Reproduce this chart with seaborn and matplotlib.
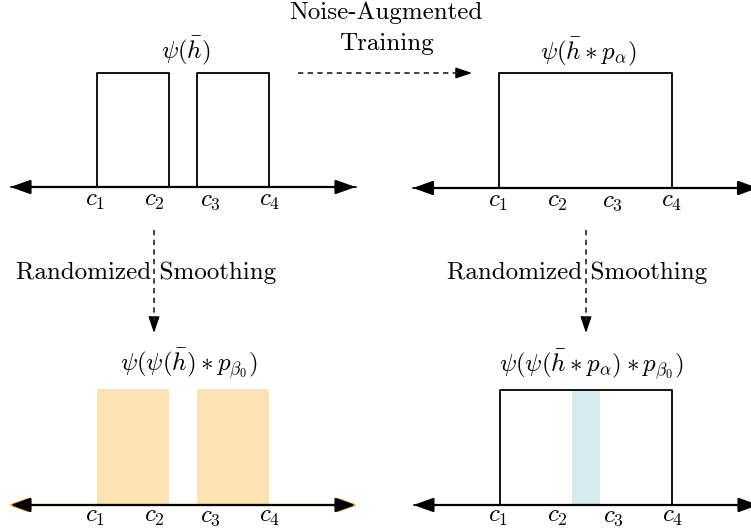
import matplotlib
matplotlib.use("Agg")
import matplotlib.pyplot as plt
import seaborn as sns
import numpy as np

# ---------------- data ----------------
c_labels = [r"$c_1$", r"$c_2$", r"$c_3$", r"$c_4$"]
c_label_x = [-3.05, -0.98, 0.95, 3.0]

# psi(h_bar): two plateaus
step_x_h = [-6.0, -3.0, -0.5, 0.5, 3.0, 6.0]
step_y_h = [0, 1, 0, 1, 0, 0]
# psi(h_bar * p_alpha): one plateau
step_x_ha = [-6.0, -3.0, 3.0, 6.0]
step_y_ha = [0, 1, 0, 0]

# certified (shaded) regions
orange_left = [-3.0, 0.5]
orange_right = [-0.5, 3.0]
blue_left = [-0.5]
blue_right = [0.5]

titles = [r"$\psi(\bar{h})$", r"$\psi(\bar{h} \ast p_\alpha)$",
          r"$\psi(\psi(\bar{h}) \ast p_{\beta_0})$",
          r"$\psi(\psi(\bar{h} \ast p_\alpha) \ast p_{\beta_0})$"]
flow_top = ["Noise-Augmented", "Training"]
flow_side = "Randomized Smoothing"

# ---------------- style ----------------
sns.set_theme(style="white")
plt.rcParams["font.family"] = ["cmr10", "DejaVu Serif"]
plt.rcParams["mathtext.fontset"] = "cm"
plt.rcParams["axes.unicode_minus"] = False
plt.rcParams["axes.formatter.use_mathtext"] = True
plt.rcParams["text.color"] = "black"

W, H = 751, 531
fig = plt.figure(figsize=(W / 100, H / 100), dpi=100)
fig.patch.set_facecolor("white")

XS = 28.75           # pixels per x unit
XLIM = (-6.4, 6.4)
YLIM = (-0.45, 1.25)
FS = 18

ORANGE = "#FDE3B1"
BLUE = "#D5EBF0"


def make_panel(cx, y0, ytop):
    ys = y0 - ytop
    left = (cx + XLIM[0] * XS) / W
    width = (XLIM[1] - XLIM[0]) * XS / W
    bottom = (H - (y0 - YLIM[0] * ys)) / H
    height = (YLIM[1] - YLIM[0]) * ys / H
    ax = fig.add_axes([left, bottom, width, height])
    ax.set_xlim(*XLIM)
    ax.set_ylim(*YLIM)
    ax.set_axis_off()
    return ax


def axis_arrow(ax, tip_color=None):
    if tip_color is not None:
        ax.annotate("", xy=(6.08, 0), xytext=(-6.08, 0),
                    arrowprops=dict(arrowstyle="<|-|>,head_length=1.0,head_width=0.36",
                                    color=tip_color, lw=1.6, shrinkA=0, shrinkB=0),
                    annotation_clip=False)
    ax.annotate("", xy=(6.0, 0), xytext=(-6.0, 0),
                arrowprops=dict(arrowstyle="<|-|>,head_length=1.0,head_width=0.36",
                                color="black", lw=1.6, shrinkA=0, shrinkB=0),
                annotation_clip=False)


def c_ticks(ax, y):
    for lab, x in zip(c_labels, c_label_x):
        ax.text(x, y, lab, ha="center", va="center", fontsize=FS, color="black")


# ---- top-left ----
ax1 = make_panel(183, 187, 73)
sns.lineplot(x=step_x_h, y=step_y_h, ax=ax1, drawstyle="steps-post",
             estimator=None, sort=False, color="black", lw=1.3)
axis_arrow(ax1)
c_ticks(ax1, -0.12)
ax1.text(0.1, 1.19, titles[0], ha="center", va="center", fontsize=FS)

# ---- top-right ----
ax2 = make_panel(585.5, 188, 73)
sns.lineplot(x=step_x_ha, y=step_y_ha, ax=ax2, drawstyle="steps-post",
             estimator=None, sort=False, color="black", lw=1.3)
axis_arrow(ax2)
c_ticks(ax2, -0.12)
ax2.text(0.1, 1.18, titles[1], ha="center", va="center", fontsize=FS)

# ---- bottom-left ----
ax3 = make_panel(183, 505, 389)
ol = np.array(orange_left)
orr = np.array(orange_right)
ax3.bar(x=(ol + orr) / 2, height=1, width=orr - ol, bottom=0,
        color=ORANGE, linewidth=0, zorder=0)
axis_arrow(ax3, tip_color="#F0A020")
c_ticks(ax3, -0.1)
ax3.text(0.2, 1.22, titles[2], ha="center", va="center", fontsize=FS)

# ---- bottom-right ----
ax4 = make_panel(586, 505, 390)
bl = np.array(blue_left)
br = np.array(blue_right)
ax4.bar(x=(bl + br) / 2, height=1, width=br - bl, bottom=0,
        color=BLUE, linewidth=0, zorder=0)
sns.lineplot(x=step_x_ha, y=step_y_ha, ax=ax4, drawstyle="steps-post",
             estimator=None, sort=False, color="black", lw=1.3)
axis_arrow(ax4)
c_ticks(ax4, -0.1)
ax4.text(0.19, 1.22, titles[3], ha="center", va="center", fontsize=FS)


# ---------------- flow arrows & text (figure pixel positions) ----------------
def fp(x, y):
    return (x / W, 1 - y / H)


def dashed_arrow(p0, p1):
    p0 = np.array(p0, float)
    p1 = np.array(p1, float)
    d = (p1 - p0) / np.linalg.norm(p1 - p0)
    pm = p1 - d * 12
    fig.add_artist(plt.Line2D([fp(*p0)[0], fp(*pm)[0]], [fp(*p0)[1], fp(*pm)[1]],
                              transform=fig.transFigure, color="#222222", lw=1.2,
                              linestyle=(0, (3.2, 2.6))))
    fig.add_artist(matplotlib.patches.FancyArrowPatch(
        fp(*(p1 - d * 14)), fp(*p1), transform=fig.transFigure,
        arrowstyle="-|>,head_length=1.0,head_width=0.34", mutation_scale=10,
        color="black", lw=1.0, shrinkA=0, shrinkB=0))


dashed_arrow((298, 73), (472, 73))
dashed_arrow((154, 230), (154, 333))
dashed_arrow((586, 230), (586, 333))

fig.text(*fp(386, 13), flow_top[0], ha="center", va="center", fontsize=FS)
fig.text(*fp(386, 44), flow_top[1], ha="center", va="center", fontsize=FS)
fig.text(*fp(146, 273), flow_side, ha="center", va="center", fontsize=FS)
fig.text(*fp(577, 273), flow_side, ha="center", va="center", fontsize=FS)

fig.savefig("out.png", dpi=100, facecolor="white")
